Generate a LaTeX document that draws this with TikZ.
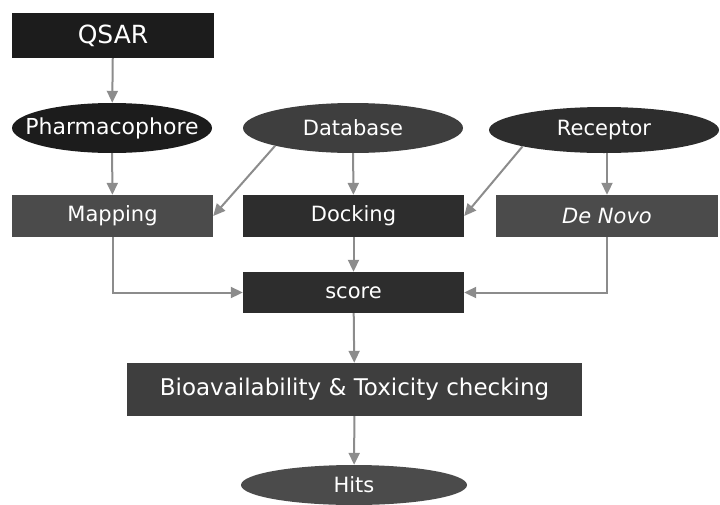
\documentclass[tikz,border=0pt]{standalone}
\usepackage{fontspec}
\setmainfont{DejaVu Sans}
\usetikzlibrary{shapes.geometric, arrows.meta}
\definecolor{FlowInk}{RGB}{28,28,28}
\definecolor{FlowDark}{RGB}{45,45,45}
\definecolor{FlowMid}{RGB}{62,62,62}
\definecolor{FlowGray}{RGB}{75,75,75}
\definecolor{FlowLink}{RGB}{140,140,140}

\begin{document}
\begin{tikzpicture}[x=1pt, y=-1pt,
          box/.style={rectangle, fill=FlowGray, text=white, inner sep=0pt,
                      font=\fontsize{21}{23}\selectfont},
          oval/.style={ellipse, fill=FlowInk, text=white, inner sep=0pt,
                       font=\fontsize{21}{23}\selectfont},
          link/.style={FlowLink, line width=2pt,
                       -{Triangle[length=12pt, width=11pt]}}
        ]
        \useasboundingbox (0,0) rectangle (720,504);

        % Top row
        \node[box, fill=FlowInk, minimum width=202pt, minimum height=45pt,
              font=\fontsize{25}{27}\selectfont]
             (qsar) at (113, 35.5) {QSAR};

        % Sources
        \node[oval, minimum width=200pt, minimum height=50pt,
              inner xsep=-50pt, font=\fontsize{22}{24}\selectfont]
             (pharm) at (112, 128) {Pharmacophore};
        \node[oval, fill=FlowMid, minimum width=220pt, minimum height=50pt]
             (db) at (353, 128) {Database};
        \node[oval, fill=FlowDark, minimum width=230pt, minimum height=46pt]
             (rec) at (604, 130) {Receptor};

        % Methods
        \node[box, minimum width=201pt, minimum height=42pt]
             (map) at (112.5, 216) {Mapping};
        \node[box, fill=FlowDark, minimum width=221pt, minimum height=42pt]
             (dock) at (353.5, 216) {Docking};
        \node[box, minimum width=222pt, minimum height=42pt]
             (novo) at (607, 216) {\itshape De Novo};

        % Ranking
        \node[box, fill=FlowDark, minimum width=221pt, minimum height=41pt]
             (score) at (353.5, 292.5) {score};
        \node[box, fill=FlowMid, minimum width=455pt, minimum height=53pt,
              font=\fontsize{23}{25}\selectfont]
             (bio) at (354.5, 389.5) {Bioavailability \& Toxicity checking};
        \node[oval, fill=FlowGray, minimum width=226pt, minimum height=40pt]
             (hits) at (354, 485) {Hits};

        % Arrows
        \draw[link] (qsar) -- (pharm);
        \draw[link] (pharm) -- (map);
        \draw[link] (db.south west) -- (map.east);
        \draw[link] (db) -- (dock);
        \draw[link] (rec.south west) -- (dock.east);
        \draw[link] (novo.north |- rec.south) -- (novo);
        \draw[link] (dock) -- (score);
        \draw[link] (map.south) |- (score.west);
        \draw[link] (novo.south) |- (score.east);
        \draw[link] (score) -- (bio);
        \draw[link] (bio) -- (hits);
      \end{tikzpicture}
\end{document}
